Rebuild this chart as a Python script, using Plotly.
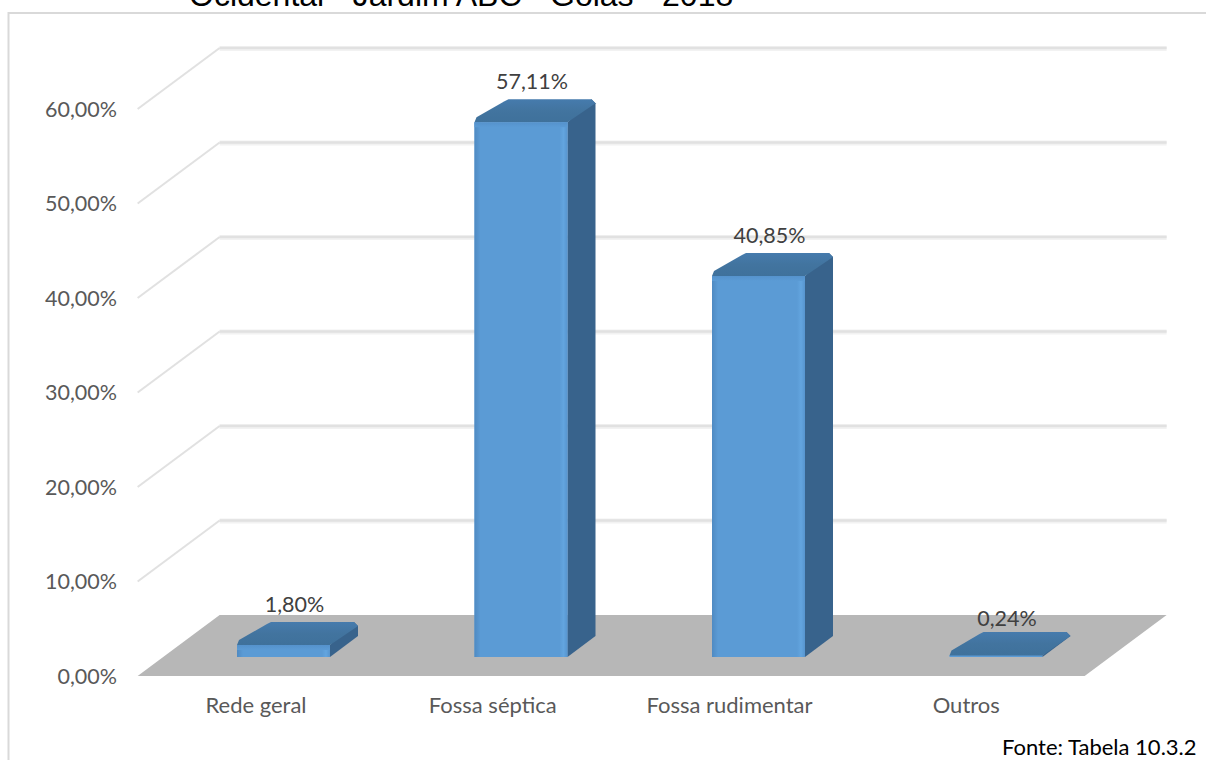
import plotly.graph_objects as go

categories = ["Rede geral", "Fossa séptica", "Fossa rudimentar", "Outros"]
values = [1.80, 57.11, 40.85, 0.24]
value_labels = ["1,80%", "57,11%", "40,85%", "0,24%"]
tick_values = [0, 10, 20, 30, 40, 50, 60]
tick_labels = ["0,00%", "10,00%", "20,00%", "30,00%", "40,00%", "50,00%", "60,00%"]
title_text = "Ocidental - Jardim ABC - Goiás - 2018"
source_text = "Fonte: Tabela 10.3.2"

W, H = 1206, 760
ML, MR, MT, MB = 122, 30, 13, 70
PX_CAT = 236.75
PX_VAL = 9.45
X0_PX = 256
Y0_PX = 676
x_range = [(ML - X0_PX) / PX_CAT, (W - MR - X0_PX) / PX_CAT]
y_range = [(Y0_PX - (H - MB)) / PX_VAL, (Y0_PX - MT) / PX_VAL]

px = 1 / PX_CAT
pv = 1 / PX_VAL
DX = 82 * px       # wall depth along x
DY = 61 * pv       # wall depth along y
BAR_W = 93 * px
BAR_OX = 27.5 * px
BAR_OY = 19 * pv
BAR_DX = 28 * px
BAR_DY = 21 * pv
BAR_STEP = 237.5 * px

FRONT = "#5B9BD5"
TOP = "#42749F"
TOP_LIGHT = "#467BAD"
SIDE = "#38638C"
FLOOR = "#B7B7B7"
GRID = "#E1E1E1"
GRID_SOFT = "#F2F2F2"
FRAME = "#D9D9D9"
FONT = "Lato, Carlito, Calibri, sans-serif"
PW = W - ML - MR
PH = H - MT - MB

shapes = []
# frame
shapes.append(dict(type="rect", xref="paper", yref="paper",
                   x0=(8.5 - ML) / PW, x1=(W - ML + 3) / PW,
                   y0=(H - MB - (H + 5)) / PH, y1=1.0,
                   line=dict(color=FRAME, width=2), fillcolor="white", layer="below"))
# floor
fl, fr = -0.5, 3.5
shapes.append(dict(type="path", xref="x", yref="y", layer="below", line=dict(width=0), fillcolor=FLOOR,
                   path=f"M {fl} 0 L {fr} 0 L {fr + DX} {DY} L {fl + DX} {DY} Z"))
# walls
for t in tick_values[1:]:
    top = t + DY
    shapes.append(dict(type="line", xref="x", yref="y", layer="below",
                       line=dict(color=GRID_SOFT, width=5),
                       x0=fl + DX, x1=fr + DX, y0=top - 0.6 * pv, y1=top - 0.6 * pv))
    shapes.append(dict(type="line", xref="x", yref="y", layer="below",
                       line=dict(color=GRID, width=2.5),
                       x0=fl + DX, x1=fr + DX, y0=top, y1=top))
    shapes.append(dict(type="line", xref="x", yref="y", layer="below",
                       line=dict(color=GRID, width=2),
                       x0=fl, x1=fl + DX, y0=t, y1=top))

fig = go.Figure()
indices = list(range(len(categories)))
lefts = [i * BAR_STEP + BAR_OX - BAR_W / 2 for i in indices]
# the visible front face stops where the bevel of the top begins
front_tops = [max(v - 5 * pv, 1.5 * pv) for v in values]
back_tops = [max(v + 18 * pv, 25 * pv) for v in values]

# front faces: real bars
fig.add_trace(go.Bar(x=[x + BAR_W / 2 for x in lefts], y=front_tops, base=[BAR_OY] * len(values),
                     width=BAR_W, marker=dict(color=FRONT, line=dict(width=0)),
                     hoverinfo="skip", showlegend=False))


def poly(xs, ys, color=None, gradient=None):
    t = dict(x=xs + xs[:1], y=ys + ys[:1], mode="lines", line=dict(width=0), fill="toself",
             hoverinfo="skip", showlegend=False)
    if gradient:
        t["fillgradient"] = gradient
    else:
        t["fillcolor"] = color
    fig.add_trace(go.Scatter(**t))


for xl, ft, bt in zip(lefts, front_tops, back_tops):
    xr = xl + BAR_W
    yb = BAR_OY
    yf = yb + ft
    yk = yb + bt
    c = 4 * px
    cv = 4 * pv
    flat = ft < 3 * pv
    # side face
    poly([xr, xr + BAR_DX, xr + BAR_DX, xr + BAR_DX - c, xr],
         [yb, yb + BAR_DY, yk - cv, yk, yf], color=SIDE)
    # top face, with softened corners
    poly([xl, xl + 2 * c / 4, xr - c / 2, xr, xr + BAR_DX, xr + BAR_DX - c, xl + 34 * px, xl + 30 * px, xl + 2 * px],
         [yf, yf, yf, yf, yk - cv, yk, yk, yk - 2 * pv, yf + 5 * pv],
         gradient=dict(type="vertical", colorscale=[[0, "#3F719B"], [0.5, TOP], [1, TOP_LIGHT]]))
    if not flat:
        # bevel strips on the front face
        strip = min(ft, 5 * pv)
        poly([xl, xl + 6 * px, xl + 6 * px, xl], [yb, yb, yf, yf],
             gradient=dict(type="horizontal", colorscale=[[0, "#4F8AC2"], [1, FRONT]]))
        poly([xr - 8 * px, xr, xr, xr - 8 * px], [yb, yb, yf, yf],
             gradient=dict(type="horizontal", colorscale=[[0, FRONT], [0.5, "#63A5DF"], [1, "#5795CF"]]))
        poly([xl, xr, xr, xl], [yf - strip, yf - strip, yf, yf],
             gradient=dict(type="vertical", colorscale=[[0, FRONT], [1, "#5592CC"]]))

# value labels
fig.add_trace(go.Scatter(
    x=[x + BAR_W / 2 + 11 * px for x in lefts],
    y=[v + BAR_OY + 23 * pv for v in values],
    mode="text", text=value_labels, textposition="top center",
    textfont=dict(family=FONT, size=21.5, color="#404040"),
    hoverinfo="skip", showlegend=False))

fig.update_layout(
    width=W, height=H, autosize=False,
    margin=dict(l=ML, r=MR, t=MT, b=MB, pad=0),
    paper_bgcolor="white", plot_bgcolor="rgba(0,0,0,0)",
    barmode="overlay", showlegend=False, shapes=shapes,
    xaxis=dict(range=x_range, tickmode="array", tickvals=indices, ticktext=categories,
               showgrid=False, zeroline=False, showline=False, ticks="", ticklen=0,
               tickfont=dict(family=FONT, size=22, color="#595959")),
    yaxis=dict(range=y_range, tickmode="array", tickvals=tick_values, ticktext=tick_labels,
               showgrid=False, zeroline=False, showline=False, ticks="", ticklen=0,
               ticklabelstandoff=4,
               tickfont=dict(family=FONT, size=21.5, color="#595959")),
    annotations=[
        dict(text=title_text, xref="paper", yref="paper", x=(461 - ML) / PW, y=1,
             xanchor="center", yanchor="bottom", yshift=-2, showarrow=False,
             font=dict(family="Liberation Sans, Arial, sans-serif", size=32, color="black")),
        dict(text=source_text, xref="paper", yref="paper", x=(1199 - ML) / PW,
             y=(H - MB - 746) / PH, xanchor="right", yanchor="middle",
             showarrow=False, font=dict(family=FONT, size=22, color="black")),
    ],
)

fig.write_html("out.html", config=dict(displayModeBar=False),
               post_script="document.body.style.margin='0';document.documentElement.style.overflow='hidden';")
